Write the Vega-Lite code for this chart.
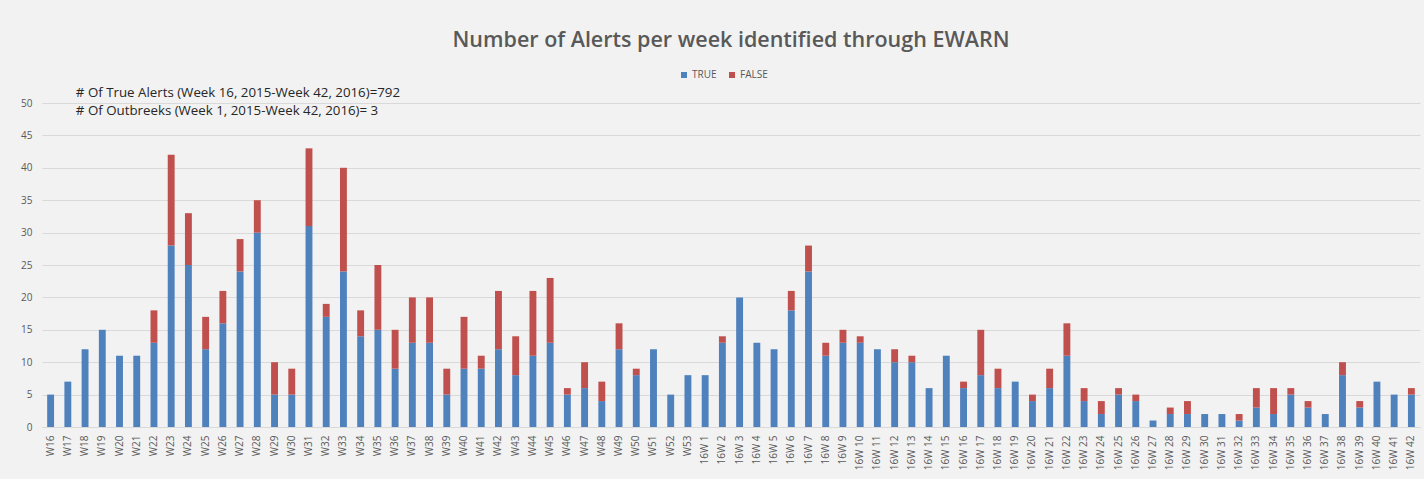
{
  "$schema": "https://vega.github.io/schema/vega-lite/v6.json",
  "width": 1378,
  "height": 324,
  "autosize": {"type": "none"},
  "padding": {"left": 42, "top": 103, "right": 4, "bottom": 52},
  "background": "#f2f2f2",
  "title": {
    "text": "Number of Alerts per week identified through EWARN",
    "font": "Open Sans",
    "fontSize": 21.5,
    "fontWeight": 600,
    "color": "#595959",
    "anchor": "middle",
    "frame": "group",
    "offset": 19
  },
  "config": {
    "view": {"stroke": null},
    "font": "Open Sans",
    "axis": {
      "labelFont": "Open Sans",
      "labelFontSize": 10,
      "labelColor": "#595959",
      "gridColor": "#d9d9d9",
      "domainColor": "#d9d9d9",
      "ticks": false
    },
    "legend": {
      "labelFont": "Open Sans",
      "labelFontSize": 10,
      "labelColor": "#595959"
    }
  },
  "datasets": {
    "weeks": [
      {"week": "W16", "TRUE": 5, "FALSE": 0},
      {"week": "W17", "TRUE": 7, "FALSE": 0},
      {"week": "W18", "TRUE": 12, "FALSE": 0},
      {"week": "W19", "TRUE": 15, "FALSE": 0},
      {"week": "W20", "TRUE": 11, "FALSE": 0},
      {"week": "W21", "TRUE": 11, "FALSE": 0},
      {"week": "W22", "TRUE": 13, "FALSE": 5},
      {"week": "W23", "TRUE": 28, "FALSE": 14},
      {"week": "W24", "TRUE": 25, "FALSE": 8},
      {"week": "W25", "TRUE": 12, "FALSE": 5},
      {"week": "W26", "TRUE": 16, "FALSE": 5},
      {"week": "W27", "TRUE": 24, "FALSE": 5},
      {"week": "W28", "TRUE": 30, "FALSE": 5},
      {"week": "W29", "TRUE": 5, "FALSE": 5},
      {"week": "W30", "TRUE": 5, "FALSE": 4},
      {"week": "W31", "TRUE": 31, "FALSE": 12},
      {"week": "W32", "TRUE": 17, "FALSE": 2},
      {"week": "W33", "TRUE": 24, "FALSE": 16},
      {"week": "W34", "TRUE": 14, "FALSE": 4},
      {"week": "W35", "TRUE": 15, "FALSE": 10},
      {"week": "W36", "TRUE": 9, "FALSE": 6},
      {"week": "W37", "TRUE": 13, "FALSE": 7},
      {"week": "W38", "TRUE": 13, "FALSE": 7},
      {"week": "W39", "TRUE": 5, "FALSE": 4},
      {"week": "W40", "TRUE": 9, "FALSE": 8},
      {"week": "W41", "TRUE": 9, "FALSE": 2},
      {"week": "W42", "TRUE": 12, "FALSE": 9},
      {"week": "W43", "TRUE": 8, "FALSE": 6},
      {"week": "W44", "TRUE": 11, "FALSE": 10},
      {"week": "W45", "TRUE": 13, "FALSE": 10},
      {"week": "W46", "TRUE": 5, "FALSE": 1},
      {"week": "W47", "TRUE": 6, "FALSE": 4},
      {"week": "W48", "TRUE": 4, "FALSE": 3},
      {"week": "W49", "TRUE": 12, "FALSE": 4},
      {"week": "W50", "TRUE": 8, "FALSE": 1},
      {"week": "W51", "TRUE": 12, "FALSE": 0},
      {"week": "W52", "TRUE": 5, "FALSE": 0},
      {"week": "W53", "TRUE": 8, "FALSE": 0},
      {"week": "16W 1", "TRUE": 8, "FALSE": 0},
      {"week": "16W 2", "TRUE": 13, "FALSE": 1},
      {"week": "16W 3", "TRUE": 20, "FALSE": 0},
      {"week": "16W 4", "TRUE": 13, "FALSE": 0},
      {"week": "16W 5", "TRUE": 12, "FALSE": 0},
      {"week": "16W 6", "TRUE": 18, "FALSE": 3},
      {"week": "16W 7", "TRUE": 24, "FALSE": 4},
      {"week": "16W 8", "TRUE": 11, "FALSE": 2},
      {"week": "16W 9", "TRUE": 13, "FALSE": 2},
      {"week": "16W 10", "TRUE": 13, "FALSE": 1},
      {"week": "16W 11", "TRUE": 12, "FALSE": 0},
      {"week": "16W 12", "TRUE": 10, "FALSE": 2},
      {"week": "16W 13", "TRUE": 10, "FALSE": 1},
      {"week": "16W 14", "TRUE": 6, "FALSE": 0},
      {"week": "16W 15", "TRUE": 11, "FALSE": 0},
      {"week": "16W 16", "TRUE": 6, "FALSE": 1},
      {"week": "16W 17", "TRUE": 8, "FALSE": 7},
      {"week": "16W 18", "TRUE": 6, "FALSE": 3},
      {"week": "16W 19", "TRUE": 7, "FALSE": 0},
      {"week": "16W 20", "TRUE": 4, "FALSE": 1},
      {"week": "16W 21", "TRUE": 6, "FALSE": 3},
      {"week": "16W 22", "TRUE": 11, "FALSE": 5},
      {"week": "16W 23", "TRUE": 4, "FALSE": 2},
      {"week": "16W 24", "TRUE": 2, "FALSE": 2},
      {"week": "16W 25", "TRUE": 5, "FALSE": 1},
      {"week": "16W 26", "TRUE": 4, "FALSE": 1},
      {"week": "16W 27", "TRUE": 1, "FALSE": 0},
      {"week": "16W 28", "TRUE": 2, "FALSE": 1},
      {"week": "16W 29", "TRUE": 2, "FALSE": 2},
      {"week": "16W 30", "TRUE": 2, "FALSE": 0},
      {"week": "16W 31", "TRUE": 2, "FALSE": 0},
      {"week": "16W 32", "TRUE": 1, "FALSE": 1},
      {"week": "16W 33", "TRUE": 3, "FALSE": 3},
      {"week": "16W 34", "TRUE": 2, "FALSE": 4},
      {"week": "16W 35", "TRUE": 5, "FALSE": 1},
      {"week": "16W 36", "TRUE": 3, "FALSE": 1},
      {"week": "16W 37", "TRUE": 2, "FALSE": 0},
      {"week": "16W 38", "TRUE": 8, "FALSE": 2},
      {"week": "16W 39", "TRUE": 3, "FALSE": 1},
      {"week": "16W 40", "TRUE": 7, "FALSE": 0},
      {"week": "16W 41", "TRUE": 5, "FALSE": 0},
      {"week": "16W 42", "TRUE": 5, "FALSE": 1}
    ],
    "notes": [
      {"week": "W17", "pos": 51.6, "label": "# Of True Alerts (Week 16, 2015-Week 42,  2016)=792"},
      {"week": "W17", "pos": 48.7, "label": "# Of Outbreeks (Week 1, 2015-Week 42,  2016)= 3"}
    ]
  },
  "layer": [
    {
      "data": {"name": "weeks"},
      "transform": [{"fold": ["TRUE", "FALSE"], "as": ["status", "count"]}],
      "mark": {"type": "bar"},
      "encoding": {
        "x": {
          "field": "week",
          "type": "nominal",
          "sort": null,
          "scale": {"paddingInner": 0.6, "paddingOuter": 0.3},
          "axis": {"title": null, "labelAngle": -90, "labelPadding": 8, "labelOverlap": false, "grid": false, "domain": true}
        },
        "y": {
          "field": "count",
          "type": "quantitative",
          "stack": "zero",
          "scale": {"domain": [0, 50], "nice": false},
          "axis": {"title": null, "values": [0, 5, 10, 15, 20, 25, 30, 35, 40, 45, 50], "domain": false, "grid": true, "labelPadding": 10, "labelOverlap": false}
        },
        "color": {
          "field": "status",
          "type": "nominal",
          "scale": {"domain": ["TRUE", "FALSE"], "range": ["#4f81bd", "#c0504d"]},
          "legend": {
            "title": null,
            "orient": "none",
            "direction": "horizontal",
            "legendX": 637,
            "legendY": -33,
            "symbolType": "square",
            "symbolSize": 36,
            "symbolStrokeWidth": 0,
            "labelOffset": 3,
            "columnPadding": 10
          }
        },
        "order": {"field": "status", "sort": "descending"}
      }
    },
    {
      "data": {"name": "notes"},
      "mark": {"type": "text", "align": "left", "baseline": "middle", "dx": 8, "font": "Open Sans", "fontSize": 13.3, "color": "#262626"},
      "encoding": {
        "x": {"field": "week", "type": "nominal", "sort": null, "axis": {"title": null, "labelAngle": -90, "labelPadding": 8, "labelOverlap": false, "grid": false, "domain": true}},
        "y": {
          "field": "pos",
          "type": "quantitative",
          "axis": {"title": null, "values": [0, 5, 10, 15, 20, 25, 30, 35, 40, 45, 50], "domain": false, "grid": true, "labelPadding": 10, "labelOverlap": false}
        },
        "text": {"field": "label"}
      }
    }
  ]
}
